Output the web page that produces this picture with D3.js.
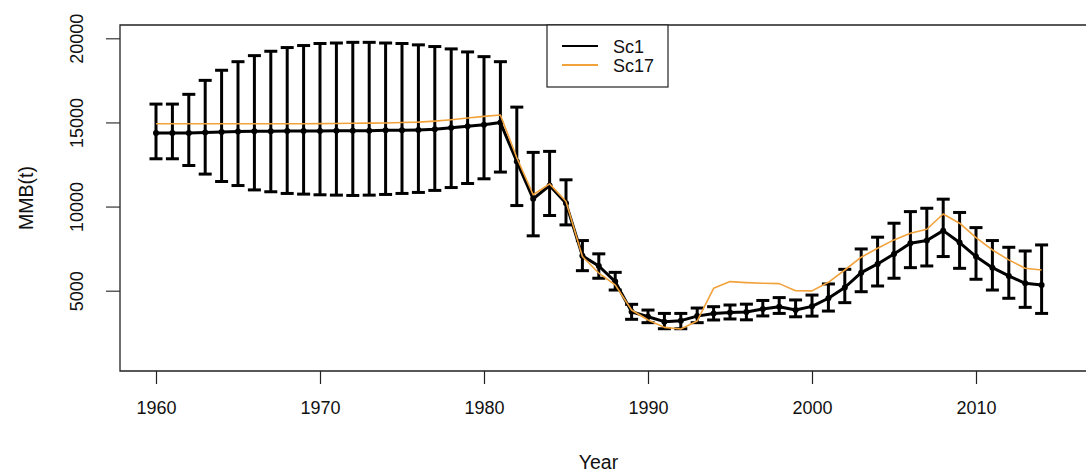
<!DOCTYPE html>
<html>
<head>
<meta charset="utf-8">
<script src="https://cdn.jsdelivr.net/npm/d3@7"></script>
<style>
  html, body { margin: 0; padding: 0; background: #fff; }
  svg { display: block; }
  text { font-family: "Liberation Sans", Arial, sans-serif; fill: #111; }
</style>
</head>
<body>
<svg id="chart" width="1086" height="475"></svg>
<script>
// Mature male biomass by year, two scenarios
const years = d3.range(1960, 2015);

const sc1 = [14370, 14370, 14370, 14400, 14430, 14460, 14470, 14470, 14490, 14490,
             14490, 14500, 14510, 14510, 14530, 14530, 14550, 14590, 14690, 14770,
             14860, 14990, 12680, 10460, 11250, 10200, 7070, 6470, 5540, 3750,
             3450, 3160, 3220, 3490, 3650, 3710, 3730, 3910, 4050, 3850,
             4070, 4550, 5190, 6070, 6590, 7180, 7820, 7980, 8570, 7860,
             7030, 6370, 5880, 5440, 5340];

const sc1Upper = [16090, 16090, 16670, 17500, 18100, 18610, 18970, 19230, 19450, 19570,
                  19690, 19720, 19760, 19760, 19720, 19690, 19610, 19510, 19370, 19190,
                  18910, 18610, 15910, 13220, 13280, 11590, 7980, 7190, 6090, 4190,
                  3850, 3650, 3650, 3970, 4050, 4150, 4200, 4420, 4590, 4450,
                  4740, 5400, 6270, 7480, 8180, 9010, 9700, 9900, 10440, 9650,
                  8750, 7980, 7580, 7360, 7720];

const sc1Lower = [12840, 12840, 12440, 11930, 11490, 11250, 10990, 10880, 10780, 10740,
                  10700, 10680, 10660, 10680, 10720, 10780, 10840, 10960, 11130, 11370,
                  11650, 12050, 10060, 8260, 9470, 8910, 6190, 5740, 5040, 3300,
                  3100, 2740, 2740, 3100, 3260, 3320, 3270, 3500, 3650, 3450,
                  3490, 3790, 4290, 4940, 5280, 5740, 6370, 6470, 7030, 6330,
                  5680, 5040, 4550, 4010, 3650];

const sc17 = [14920, 14920, 14920, 14920, 14920, 14920, 14920, 14920, 14920, 14920,
              14930, 14940, 14950, 14960, 14970, 15000, 15020, 15080, 15160, 15260,
              15360, 15440, 12900, 10700, 11350, 10300, 7030, 6050, 5350, 3850,
              3260, 2820, 2720, 3200, 5140, 5540, 5480, 5440, 5420, 5000,
              4990, 5500, 6230, 6990, 7520, 8020, 8410, 8650, 9560, 9010,
              8160, 7420, 6830, 6330, 6230];

const xTicks = [1960, 1970, 1980, 1990, 2000, 2010];
const yTicks = [5000, 10000, 15000, 20000];
const seriesNames = ["Sc1", "Sc17"];
const seriesColors = ["#000000", "#f2a23a"];

const svg = d3.select("#chart");

// plot region
const plotLeft = 120, plotTop = 25, plotBottom = 371, plotRight = 1090;

const x = d3.scaleLinear().domain([1960, 2010]).range([156, 976]);
const y = d3.scaleLinear().domain([5000, 20000]).range([290.7, 38.3]);

const tickFont = 18;
const titleFont = 19.5;

// frame
svg.append("path")
  .attr("d", `M${plotRight},${plotTop}H${plotLeft}V${plotBottom}H${plotRight}`)
  .attr("fill", "none").attr("stroke", "#222").attr("stroke-width", 1.3);

// x axis
const xAxis = svg.append("g").attr("transform", `translate(0,${plotBottom})`)
  .call(d3.axisBottom(x).tickValues(xTicks).tickSize(13).tickFormat(d3.format("d")));
xAxis.select(".domain").remove();
xAxis.selectAll(".tick line").attr("stroke", "#222").attr("stroke-width", 1.2);
xAxis.selectAll(".tick text")
  .attr("y", 43).attr("dy", null)
  .attr("font-size", tickFont)
  .attr("text-anchor", "middle");

// y axis
const yAxis = svg.append("g").attr("transform", `translate(${plotLeft},0)`)
  .call(d3.axisLeft(y).tickValues(yTicks).tickSize(14).tickFormat(d3.format("d")));
yAxis.select(".domain").remove();
yAxis.selectAll(".tick line").attr("stroke", "#333").attr("stroke-width", 1.2);
yAxis.selectAll(".tick text")
  .attr("x", 0).attr("dy", null)
  .attr("transform", "translate(-37,0) rotate(-90)")
  .attr("font-size", tickFont)
  .attr("text-anchor", "middle");

// axis titles
svg.append("text")
  .attr("transform", `translate(${(plotLeft + 1077) / 2},469)`)
  .attr("text-anchor", "middle").attr("font-size", titleFont).text("Year");
svg.append("text")
  .attr("transform", `translate(33,${(plotTop + plotBottom) / 2}) rotate(-90)`)
  .attr("text-anchor", "middle").attr("font-size", titleFont).text("MMB(t)");

// error bars for Sc1
const capHalf = 6.5;
const bars = svg.append("g").attr("stroke", "#000").attr("stroke-width", 3);
years.forEach((yr, i) => {
  const cx = x(yr);
  bars.append("line").attr("x1", cx).attr("x2", cx)
    .attr("y1", y(sc1Upper[i])).attr("y2", y(sc1Lower[i]));
  bars.append("line").attr("x1", cx - capHalf).attr("x2", cx + capHalf)
    .attr("y1", y(sc1Upper[i])).attr("y2", y(sc1Upper[i]));
  bars.append("line").attr("x1", cx - capHalf).attr("x2", cx + capHalf)
    .attr("y1", y(sc1Lower[i])).attr("y2", y(sc1Lower[i]));
});

// Sc1 line and points
const line = d3.line().x((d, i) => x(years[i])).y(d => y(d));
svg.append("path").datum(sc1)
  .attr("d", line).attr("fill", "none")
  .attr("stroke", seriesColors[0]).attr("stroke-width", 3).attr("stroke-linejoin", "round");
svg.append("g").selectAll("circle").data(sc1).join("circle")
  .attr("cx", (d, i) => x(years[i])).attr("cy", d => y(d))
  .attr("r", 3).attr("fill", "#000");

// Sc17 line
svg.append("path").datum(sc17)
  .attr("d", line).attr("fill", "none")
  .attr("stroke", seriesColors[1]).attr("stroke-width", 1.6).attr("stroke-linejoin", "round");

// legend
const lg = svg.append("g");
lg.append("rect").attr("x", 547).attr("y", plotTop).attr("width", 121).attr("height", 62)
  .attr("fill", "#fff").attr("stroke", "#222").attr("stroke-width", 1.2);
seriesNames.forEach((name, i) => {
  const ly = 46 + i * 19;
  lg.append("line").attr("x1", 562).attr("x2", 598).attr("y1", ly).attr("y2", ly)
    .attr("stroke", seriesColors[i]).attr("stroke-width", 2.2);
  lg.append("text")
    .attr("transform", `translate(613,${ly + 6.5})`)
    .attr("font-size", tickFont).text(name);
});
</script>
</body>
</html>
